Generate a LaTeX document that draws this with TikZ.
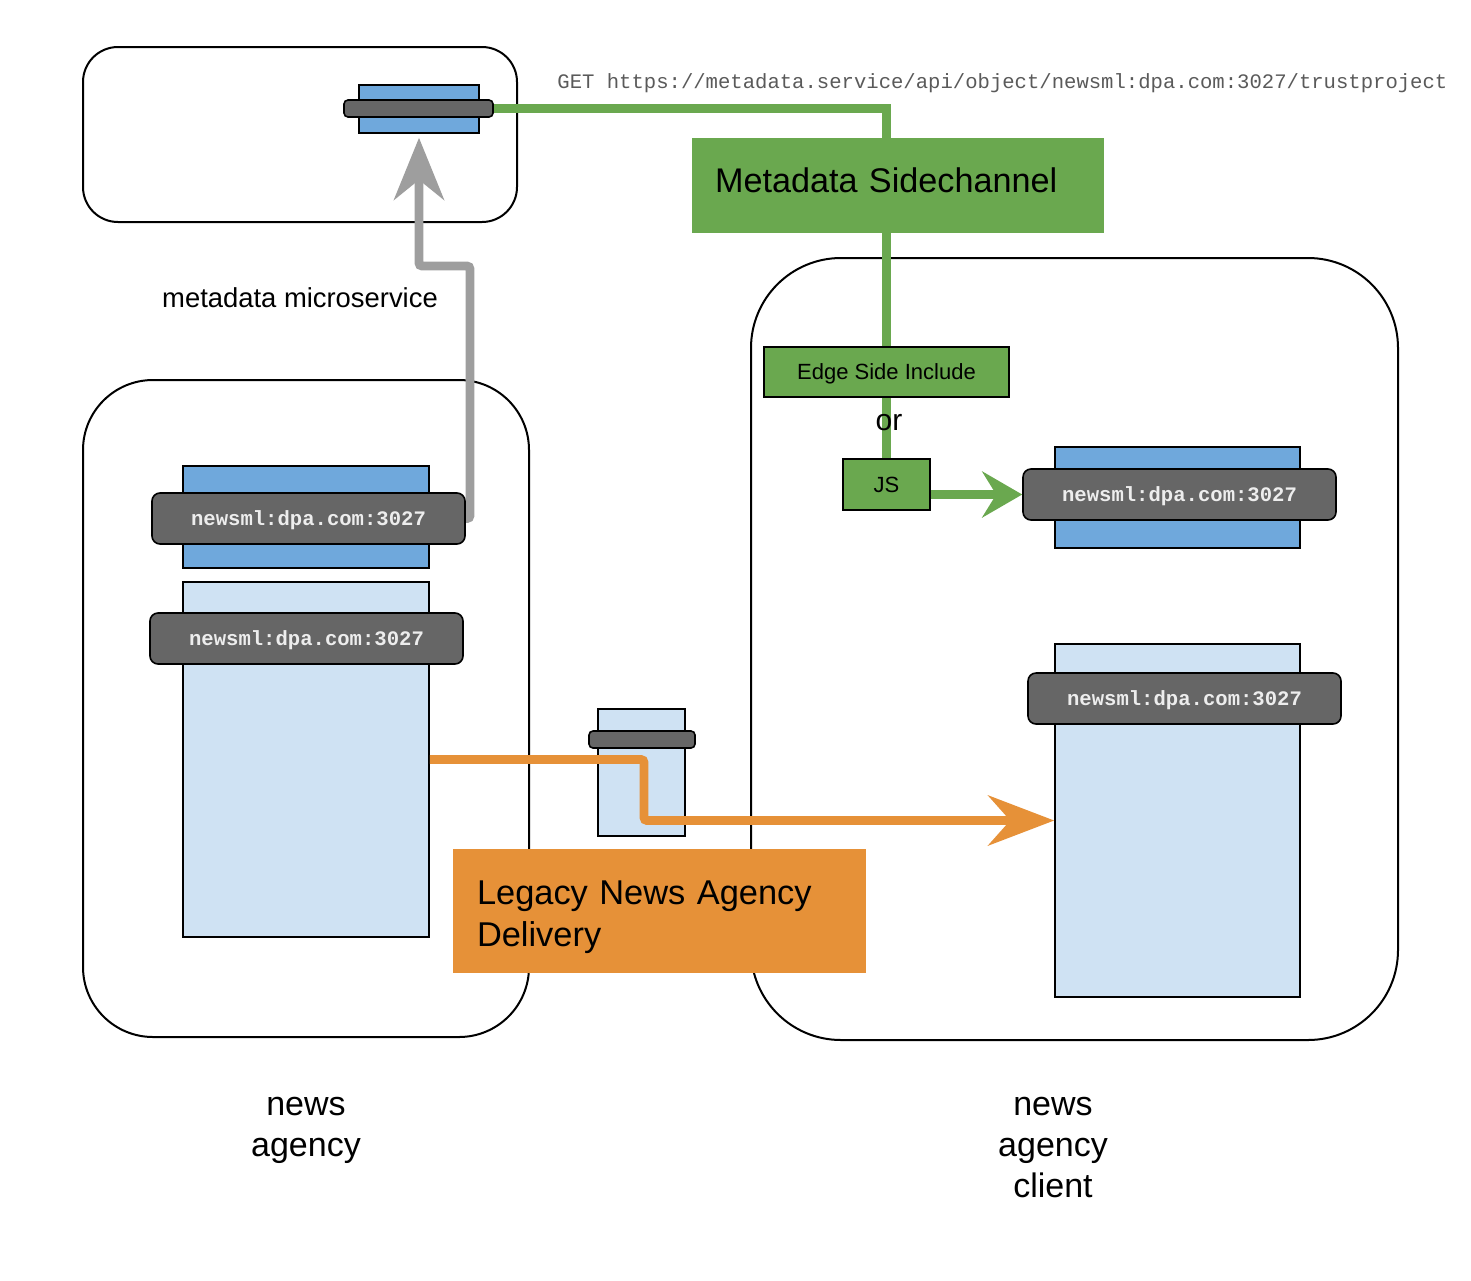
\documentclass[tikz,border=0pt]{standalone}
\usepackage{fontspec}
\setmainfont{Liberation Sans}
\setmonofont{Liberation Mono}
\usetikzlibrary{arrows.meta}

\definecolor{boxblue}{HTML}{6FA8DC}
\definecolor{lightblue}{HTML}{CFE2F3}
\definecolor{bardark}{HTML}{666666}
\definecolor{sidegreen}{HTML}{6AA84F}
\definecolor{legacyorange}{HTML}{E69138}
\definecolor{wiregray}{HTML}{9E9E9E}
\definecolor{urlgray}{HTML}{5A5A5A}

\pgfdeclarelayer{back}
\pgfsetlayers{back,main}

\begin{document}
\begin{tikzpicture}[x=0.5pt,y=-0.5pt,
  sz/.style 2 args={minimum width=#1*0.5pt,minimum height=#2*0.5pt},
  container/.style={draw=black,line width=1pt,inner sep=0pt},
  store/.style={draw=black,line width=0.8pt,inner sep=0pt},
  idbar/.style={draw=black,line width=0.8pt,fill=bardark,rounded corners=4pt,
    inner sep=0pt,text depth=0pt,text=white!93!black,font=\fontsize{10.3pt}{12pt}\ttfamily\bfseries},
  greenwire/.style={draw=sidegreen,line width=4.4pt},
  graywire/.style={draw=wiregray,line width=4.4pt,rounded corners=1.5pt},
  orangewire/.style={draw=legacyorange,line width=4.4pt,rounded corners=1.5pt},
  caption/.style={align=center,font=\fontsize{17pt}{20.5pt}\selectfont},
]
\useasboundingbox (0,0) rectangle (1471,1280);

% outer containers
\begin{pgfonlayer}{back}
  \node[container,sz={434}{175},rounded corners=17.5pt] (msbox) at (300,134.5) {};
  \node[container,sz={446}{657},rounded corners=35pt] (agencybox) at (306,708.5) {};
  \node[container,sz={647}{782},rounded corners=45pt] (clientbox) at (1074.5,649) {};
\end{pgfonlayer}

% metadata microservice endpoint
\node[store,fill=boxblue,sz={120}{48}] (mblue) at (419,109) {};
\node[idbar,sz={149}{17},rounded corners=2pt] (mbar) at (418.5,108.5) {};
\node[anchor=west,inner sep=0pt,text=urlgray,font=\fontsize{10.3pt}{12pt}\ttfamily] (url) at (557,83)
  {GET https://metadata.service/api/object/newsml:dpa.com:3027/trustproject};
\node[font=\fontsize{13.7pt}{16pt}\selectfont] (mslabel) at (300,298) {metadata microservice};

% sidechannel
\node[fill=sidegreen,sz={412}{95},text width=183pt,inner xsep=11.5pt,inner ysep=0pt,align=left,
  text depth=5pt,font=\fontsize{17.1pt}{20pt}\selectfont] (side) at (898,185.5) {Metadata Sidechannel};

% news agency
\node[store,fill=boxblue,sz={246}{102}] (lblue1) at (306,517) {};
\node[idbar,sz={313}{51}] (lbar1) at (308.5,518.5) {newsml:dpa.com:3027};
\node[store,fill=lightblue,sz={246}{355}] (lblue2) at (306,759.5) {};
\node[idbar,sz={313}{51}] (lbar2) at (306.5,638.5) {newsml:dpa.com:3027};

% news agency client
\node[store,fill=sidegreen,sz={245}{50},text depth=0pt,font=\fontsize{11pt}{13pt}\selectfont] (esi) at (886.5,372) {Edge Side Include};
\node[font=\fontsize{15pt}{17pt}\selectfont] (ortext) at (889,423) {or};
\node[store,fill=sidegreen,sz={87}{51},font=\fontsize{11pt}{13pt}\selectfont] (js) at (886.5,484.5) {JS};
\node[store,fill=boxblue,sz={245}{101}] (rblue1) at (1177.5,497.5) {};
\node[idbar,sz={313}{51}] (rbar1) at (1179.5,494.5) {newsml:dpa.com:3027};
\node[store,fill=lightblue,sz={245}{353}] (rblue2) at (1177.5,820.5) {};
\node[idbar,sz={313}{51}] (rbar2) at (1184.5,698.5) {newsml:dpa.com:3027};

% legacy delivery channel
\node[store,fill=lightblue,sz={87}{127}] (cblue) at (641.5,772.5) {};
\node[idbar,sz={106}{17},rounded corners=2pt] (cbar) at (642,739.5) {};
\node[fill=legacyorange,sz={413}{124},text width=182.5pt,inner xsep=12pt,inner ysep=0pt,align=left,
  text height=18pt,font=\fontsize{17.2pt}{21pt}\selectfont] (legacy) at (659.5,911) {Legacy News Agency\\Delivery};

% captions
\node[caption] (agencylabel) at (306,1130) {news\\agency};
\node[caption] (clientlabel) at (1053,1147) {news\\agency\\client};

% wires
\coordinate (gbend) at (470,266);
\coordinate (obend) at (644,790);
\begin{pgfonlayer}{back}
  \draw[greenwire] (mbar.east) -| (esi.north);
  \draw[greenwire] (esi.south) -- (js.north);
  \draw[graywire,-{Stealth[length=31pt,width=25pt,inset=10pt]},shorten >=2pt]
    (lbar1.east) -| (gbend) -| (mblue.south);
\end{pgfonlayer}
\draw[greenwire,-{Stealth[length=20pt,width=23pt,inset=7pt]}] (js.east |- rbar1.west) -- (rbar1.west);
\draw[orangewire,-{Stealth[length=33pt,width=25pt,inset=11pt]}] (lblue2.east) -| (obend) |- (rblue2.west);
\end{tikzpicture}
\end{document}
